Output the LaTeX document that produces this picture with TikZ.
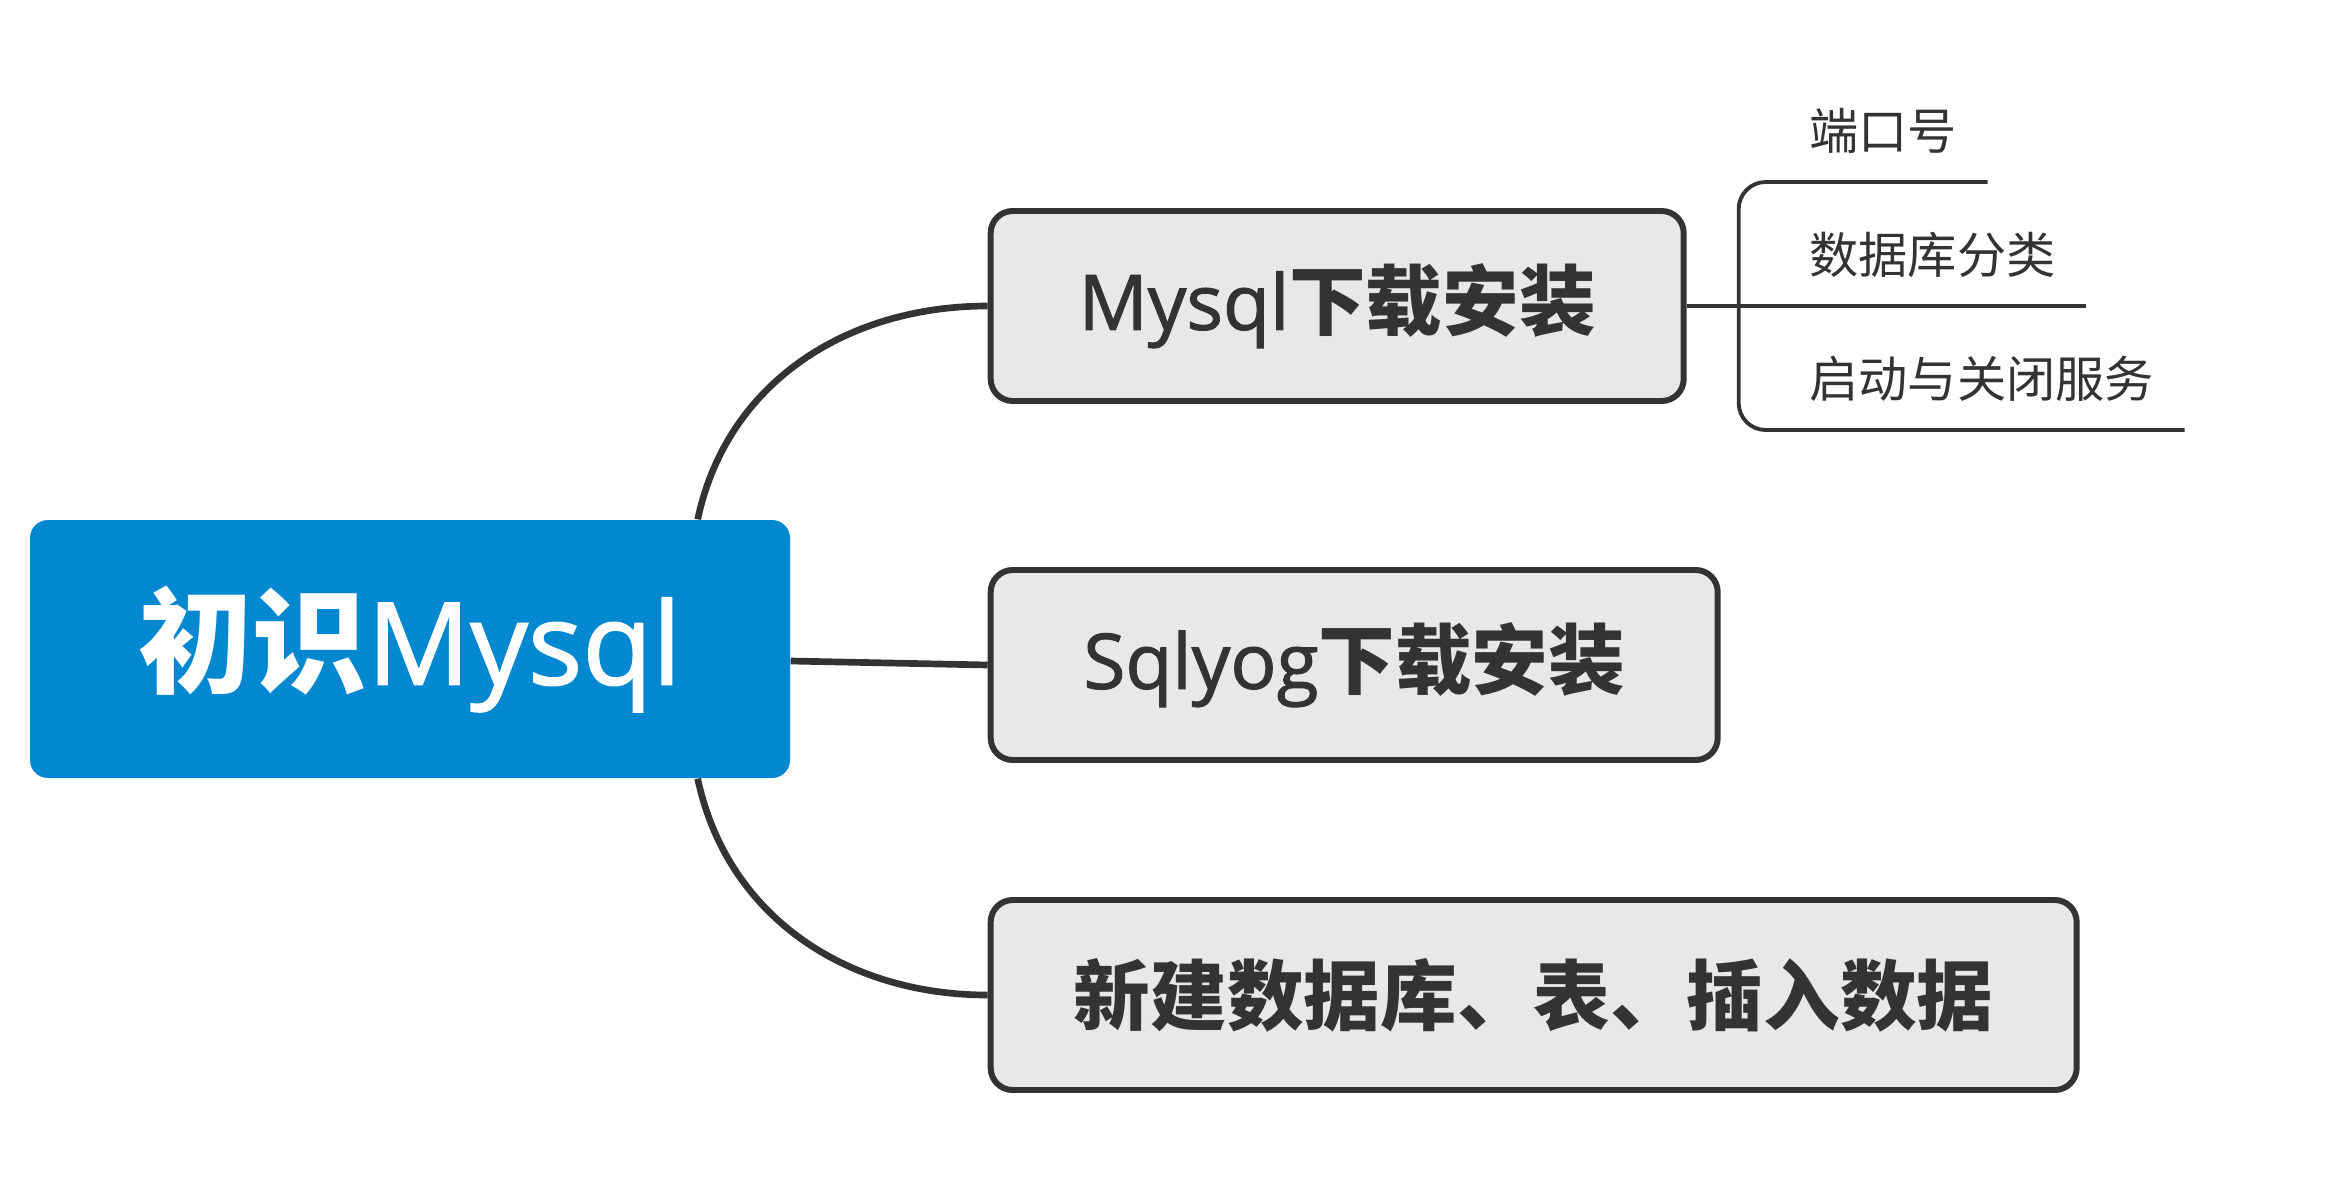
\documentclass[tikz,border=0pt]{standalone}
\usepackage{fontspec}
\setmainfont{Open Sans}
\newfontfamily\latinmed{Open Sans}[FakeBold=1.4]
\newfontfamily\cjk{Noto Sans CJK SC}
\usetikzlibrary{positioning}

\begin{document}
\begin{tikzpicture}[node distance=1.97cm, every node/.style={align=center}]
    % colours
    \definecolor{rootblue}{RGB}{2,136,209}
    \definecolor{boxgray}{RGB}{232,232,232}
    \definecolor{linedark}{RGB}{51,51,51}

    % styles
    \tikzstyle{root} = [rectangle, rounded corners=0.18cm, fill=rootblue, minimum width=7.6cm, minimum height=2.58cm, inner sep=0pt, text=white, font=\latinmed\fontsize{32.5pt}{37pt}\selectfont]
    \tikzstyle{topic} = [rectangle, rounded corners=0.22cm, draw=linedark, line width=1.7pt, fill=boxgray, minimum height=1.9cm, inner sep=0pt, text=linedark, font=\latinmed\fontsize{21.8pt}{26pt}\selectfont]
    \tikzstyle{subtopic} = [inner xsep=0.3cm, inner ysep=0.28cm, text=linedark, font=\cjk\fontsize{14pt}{17pt}\selectfont]
    \tikzstyle{mainline} = [line width=1.9pt, draw=linedark]
    \tikzstyle{subline} = [line width=1.1pt, draw=linedark]

    \useasboundingbox (0,0) rectangle (23.52,-11.98);

    % central topic
    \node[root] (root) at (4.10,-6.49) {{\cjk\bfseries 初识}Mysql};

    % main topics
    \node[topic, minimum width=6.93cm, right=of root, yshift=3.43cm] (mysql) {Mysql{\cjk\bfseries 下载安装}};
    \node[topic, minimum width=7.27cm, right=of root, yshift=-0.16cm] (sqlyog) {Sqlyog{\cjk\bfseries 下载安装}};
    \node[topic, minimum width=10.86cm, right=of root, yshift=-3.46cm] (newdb) {{\cjk\bfseries 新建数据库、表、插入数据}};

    % subtopics
    \coordinate[right=0.52cm of mysql] (fork);
    \node[subtopic, anchor=south west] (port) at ([xshift=0.92cm, yshift=1.24cm]mysql.east) {端口号};
    \node[subtopic, anchor=south west] (kind) at ([xshift=0.92cm]mysql.east) {数据库分类};
    \node[subtopic, anchor=south west] (serv) at ([xshift=0.92cm, yshift=-1.24cm]mysql.east) {启动与关闭服务};

    % connectors
    \draw[mainline] ([xshift=-0.93cm]root.north east) to[out=78, in=180] (mysql.west);
    \draw[mainline] ([yshift=-0.12cm]root.east) -- (sqlyog.west);
    \draw[mainline] ([xshift=-0.93cm]root.south east) to[out=-78, in=180] (newdb.west);
    \draw[subline] (mysql.east) -- (kind.south east);
    \draw[subline, rounded corners=0.27cm] (port.south east) -- (port.south east -| fork) -- (serv.south east -| fork) -- (serv.south east);
\end{tikzpicture}
\end{document}
